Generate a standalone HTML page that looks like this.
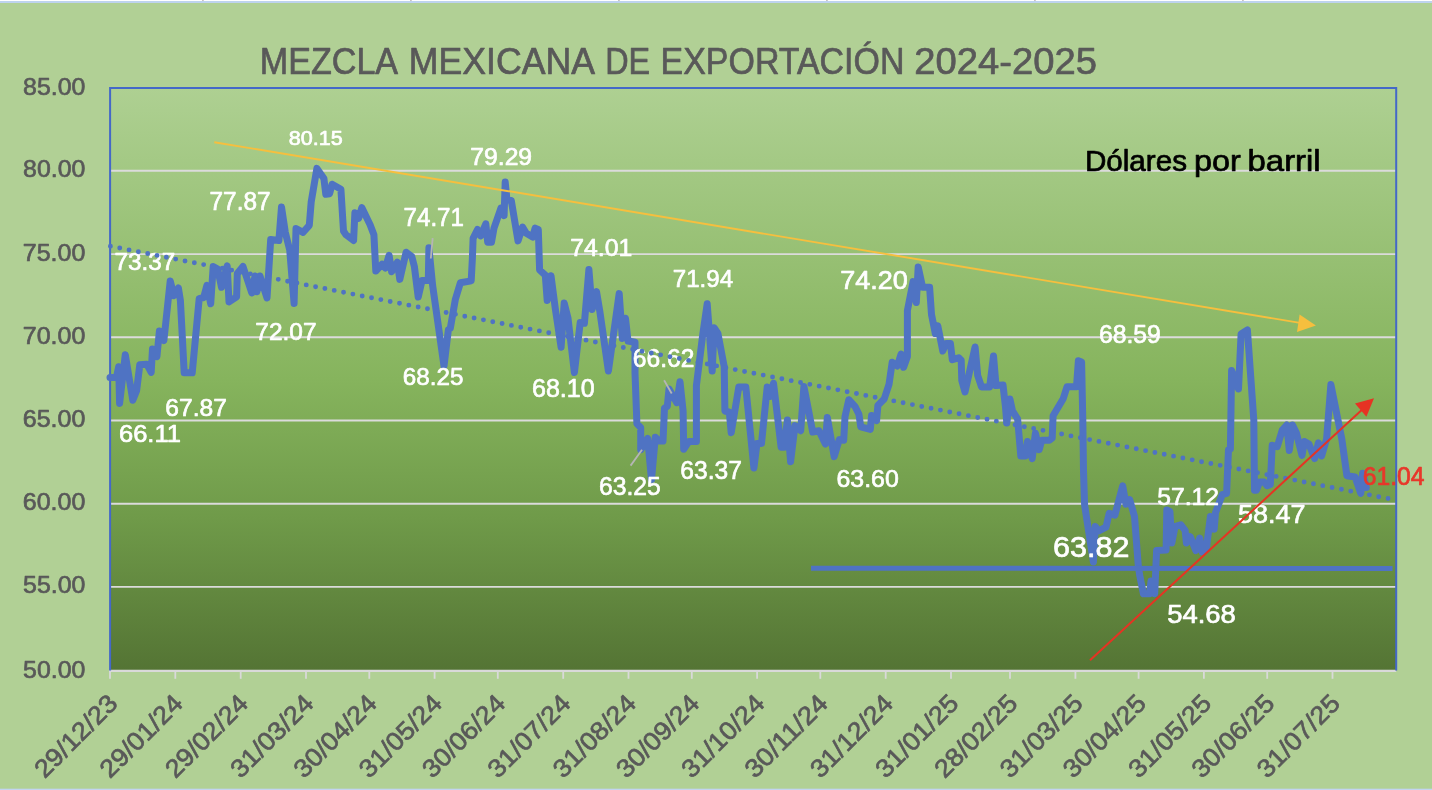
<!DOCTYPE html>
<html lang="es"><head><meta charset="utf-8"><title>Mezcla Mexicana de Exportación 2024-2025</title>
<style>html,body{margin:0;padding:0;background:#b1d095;overflow:hidden}svg{display:block}text{font-family:"Liberation Sans",sans-serif;stroke-width:0.7px;stroke-linejoin:round}</style>
</head><body>
<svg width="1432" height="790" viewBox="0 0 1432 790">
<defs><linearGradient id="g" x1="0" y1="0" x2="0" y2="1"><stop offset="0" stop-color="#aed092"/><stop offset="0.5" stop-color="#86b45d"/><stop offset="0.74" stop-color="#6f9a49"/><stop offset="1" stop-color="#547434"/></linearGradient></defs>
<rect x="0" y="0" width="1432" height="790" fill="#b1d095"/>
<rect x="0" y="0" width="1432" height="1" fill="#ffffff"/>
<rect x="0" y="1" width="1432" height="2" fill="#bed3ee"/>
<rect x="202.0" y="0" width="1.8" height="1" fill="#c9c3c3"/>
<rect x="410.0" y="0" width="1.8" height="1" fill="#c9c3c3"/>
<rect x="618.0" y="0" width="1.8" height="1" fill="#c9c3c3"/>
<rect x="826.0" y="0" width="1.8" height="1" fill="#c9c3c3"/>
<rect x="1034.0" y="0" width="1.8" height="1" fill="#c9c3c3"/>
<rect x="1242.0" y="0" width="1.8" height="1" fill="#c9c3c3"/>
<rect x="0" y="788.7" width="1432" height="1.3" fill="#c2d4f0"/>
<rect x="110.1" y="88.1" width="1286.1000000000001" height="582.8" fill="url(#g)"/>
<line x1="110.1" y1="170.8" x2="1396.2" y2="170.8" stroke="#dbdbdb" stroke-width="1.9"/>
<line x1="110.1" y1="254.1" x2="1396.2" y2="254.1" stroke="#dbdbdb" stroke-width="1.9"/>
<line x1="110.1" y1="337.3" x2="1396.2" y2="337.3" stroke="#dbdbdb" stroke-width="1.9"/>
<line x1="110.1" y1="420.5" x2="1396.2" y2="420.5" stroke="#dbdbdb" stroke-width="1.9"/>
<line x1="110.1" y1="503.7" x2="1396.2" y2="503.7" stroke="#dbdbdb" stroke-width="1.9"/>
<line x1="110.1" y1="586.9" x2="1396.2" y2="586.9" stroke="#dbdbdb" stroke-width="1.9"/>
<line x1="109.1" y1="670.9" x2="1396.2" y2="670.9" stroke="#d9d9d9" stroke-width="2.3"/>
<line x1="110.0" y1="671" x2="110.0" y2="678.8" stroke="#d9d9d9" stroke-width="1.8"/>
<line x1="175.3" y1="671" x2="175.3" y2="678.8" stroke="#d9d9d9" stroke-width="1.8"/>
<line x1="240.7" y1="671" x2="240.7" y2="678.8" stroke="#d9d9d9" stroke-width="1.8"/>
<line x1="306.0" y1="671" x2="306.0" y2="678.8" stroke="#d9d9d9" stroke-width="1.8"/>
<line x1="369.3" y1="671" x2="369.3" y2="678.8" stroke="#d9d9d9" stroke-width="1.8"/>
<line x1="434.6" y1="671" x2="434.6" y2="678.8" stroke="#d9d9d9" stroke-width="1.8"/>
<line x1="497.8" y1="671" x2="497.8" y2="678.8" stroke="#d9d9d9" stroke-width="1.8"/>
<line x1="563.2" y1="671" x2="563.2" y2="678.8" stroke="#d9d9d9" stroke-width="1.8"/>
<line x1="628.5" y1="671" x2="628.5" y2="678.8" stroke="#d9d9d9" stroke-width="1.8"/>
<line x1="691.8" y1="671" x2="691.8" y2="678.8" stroke="#d9d9d9" stroke-width="1.8"/>
<line x1="757.1" y1="671" x2="757.1" y2="678.8" stroke="#d9d9d9" stroke-width="1.8"/>
<line x1="820.3" y1="671" x2="820.3" y2="678.8" stroke="#d9d9d9" stroke-width="1.8"/>
<line x1="885.7" y1="671" x2="885.7" y2="678.8" stroke="#d9d9d9" stroke-width="1.8"/>
<line x1="951.0" y1="671" x2="951.0" y2="678.8" stroke="#d9d9d9" stroke-width="1.8"/>
<line x1="1010.0" y1="671" x2="1010.0" y2="678.8" stroke="#d9d9d9" stroke-width="1.8"/>
<line x1="1075.4" y1="671" x2="1075.4" y2="678.8" stroke="#d9d9d9" stroke-width="1.8"/>
<line x1="1138.6" y1="671" x2="1138.6" y2="678.8" stroke="#d9d9d9" stroke-width="1.8"/>
<line x1="1203.9" y1="671" x2="1203.9" y2="678.8" stroke="#d9d9d9" stroke-width="1.8"/>
<line x1="1267.2" y1="671" x2="1267.2" y2="678.8" stroke="#d9d9d9" stroke-width="1.8"/>
<line x1="1332.5" y1="671" x2="1332.5" y2="678.8" stroke="#d9d9d9" stroke-width="1.8"/>
<path d="M110.1 670.4 V88.1 H1396.2 V670.4" fill="none" stroke="#4468c8" stroke-width="2"/>
<polyline points="110.0,377.5 116.4,377.5 118.7,366.7 119.6,403.4 125.3,354.7 132.8,400.3 136.6,390.8 139.8,364.8 146.8,364.2 151.2,372.4 152.5,349.0 156.9,356.6 159.4,331.0 163.9,340.5 170.2,281.0 174.0,295.6 178.4,288.0 180.4,300.6 184.2,372.8 192.2,372.8 199.2,298.7 203.7,297.5 206.9,285.4 210.7,303.8 213.2,266.5 217.7,269.0 221.5,287.3 227.2,265.8 229.0,301.9 236.6,296.8 237.3,273.4 243.0,266.5 251.8,293.0 255.0,276.0 256.9,291.8 260.0,276.0 267.0,298.0 270.7,239.5 278.9,240.5 281.5,207.0 285.3,232.3 289.7,250.0 294.1,303.4 296.0,228.5 303.0,232.3 309.3,225.3 311.2,201.9 316.9,168.4 323.9,178.5 325.8,194.3 329.6,193.7 332.1,184.2 340.9,189.2 343.5,231.0 346.0,234.8 353.6,240.5 354.9,212.7 358.7,218.4 361.8,207.6 370.1,224.7 373.9,234.8 375.8,271.1 382.1,264.2 385.3,268.0 389.1,255.3 391.6,271.8 397.3,262.3 399.8,279.4 406.1,252.2 411.8,256.6 414.4,266.7 418.2,297.1 422.0,280.6 428.3,280.6 428.9,247.7 432.6,285.3 444.0,366.0 448.4,329.6 450.3,328.4 455.4,299.2 460.4,282.8 471.2,280.9 472.4,258.0 473.1,238.4 477.5,229.5 480.7,235.8 485.8,223.8 487.7,242.2 491.5,242.2 494.0,228.2 501.0,208.0 504.1,215.6 505.2,182.0 506.9,199.0 511.3,200.6 518.0,240.9 522.5,227.0 526.3,233.3 532.6,237.1 535.1,228.2 538.3,229.5 539.6,270.0 545.3,275.2 547.2,300.5 551.0,275.8 555.4,309.4 561.1,347.3 564.2,303.0 568.0,318.2 574.4,372.5 580.2,322.6 584.4,323.3 588.9,269.5 592.1,309.4 596.5,291.6 599.7,310.6 608.4,371.0 619.2,293.6 622.3,338.5 625.5,318.3 628.0,341.0 635.0,342.3 635.0,373.0 636.9,423.6 640.7,427.7 640.7,449.8 647.7,438.4 651.5,479.6 655.3,437.2 659.0,441.0 663.0,441.0 664.5,408.0 667.3,406.5 669.0,389.0 676.8,402.7 680.0,381.8 683.1,411.0 683.7,449.2 688.8,441.6 696.4,441.6 696.4,385.6 702.7,335.0 707.2,303.7 712.2,371.0 714.1,327.8 717.9,333.5 724.2,366.6 724.9,411.0 729.3,412.2 731.2,432.7 738.8,387.0 745.8,387.0 753.9,468.0 757.0,443.4 761.5,443.4 767.2,387.0 770.3,396.5 773.5,383.2 781.1,447.2 784.2,447.2 787.4,420.0 790.6,461.7 795.0,425.6 800.7,430.7 803.9,386.4 812.7,432.0 819.0,430.7 825.4,444.0 827.3,417.4 834.2,456.6 839.3,439.6 843.7,440.2 845.0,416.8 848.8,399.7 855.1,406.6 858.9,414.2 860.8,426.9 870.3,429.4 871.6,415.5 876.6,420.6 877.9,405.4 884.2,399.0 889.0,384.4 892.2,362.2 897.3,366.0 901.1,354.0 903.6,367.3 907.4,356.5 907.4,310.7 913.1,281.6 916.3,302.5 918.2,267.0 922.6,287.3 929.6,287.3 931.5,314.5 935.3,333.5 937.8,325.9 942.8,351.0 946.0,343.4 950.4,343.4 952.3,359.7 958.7,357.8 961.2,360.3 961.8,380.6 965.0,392.0 975.1,347.0 977.7,375.5 981.5,386.9 989.7,386.9 993.5,355.9 996.0,385.6 1003.0,385.0 1005.5,407.2 1006.8,423.0 1009.9,398.9 1012.5,411.0 1017.6,418.8 1020.8,456.0 1025.3,456.0 1027.5,441.5 1032.2,458.6 1035.4,433.3 1039.2,449.7 1041.7,440.3 1049.3,440.3 1052.2,438.0 1053.1,415.8 1063.2,398.7 1067.0,386.7 1076.5,386.7 1078.4,360.8 1081.6,362.0 1082.8,420.0 1083.5,470.6 1084.6,505.0 1087.7,525.3 1093.4,562.0 1095.3,526.6 1098.4,531.0 1106.0,527.2 1109.2,513.3 1114.9,515.2 1122.7,485.8 1125.9,504.2 1129.7,499.7 1134.5,516.5 1138.3,565.8 1139.6,574.7 1143.4,593.7 1149.7,593.7 1151.0,581.0 1154.7,593.7 1156.6,550.6 1166.1,550.0 1166.8,510.1 1169.9,511.4 1171.8,543.0 1175.0,526.6 1180.7,524.7 1185.1,530.4 1186.4,543.0 1190.2,536.7 1195.9,550.6 1199.7,538.0 1202.2,551.9 1206.6,546.8 1210.4,516.5 1214.2,529.1 1215.5,512.7 1222.2,494.7 1226.6,493.4 1228.5,449.7 1230.4,449.1 1231.6,370.6 1238.5,389.0 1241.1,334.0 1247.4,330.0 1253.8,420.0 1254.5,490.3 1256.4,490.3 1259.6,482.0 1264.0,482.0 1267.2,485.8 1270.3,484.6 1272.2,445.3 1277.3,446.6 1282.3,430.1 1286.8,425.0 1289.3,450.4 1292.5,425.0 1296.3,432.7 1302.0,455.4 1304.5,441.5 1308.9,444.0 1314.6,458.6 1318.4,442.8 1321.6,456.0 1326.6,439.0 1330.9,384.6 1341.8,439.0 1346.9,475.7 1355.1,477.0 1360.8,493.4 1362.7,473.2 1366.3,487.5" fill="none" stroke="#4f73c3" stroke-width="7" stroke-linejoin="round" stroke-linecap="round"/>
<line x1="811" y1="568.3" x2="1392.5" y2="568.4" stroke="#4f73c3" stroke-width="5"/>
<line x1="432.7" y1="238.2" x2="430.8" y2="258.5" stroke="#b5b5b5" stroke-width="1.8"/>
<line x1="664.1" y1="380.3" x2="671.7" y2="393.5" stroke="#b5b5b5" stroke-width="1.8"/>
<line x1="630.6" y1="465.6" x2="642" y2="449.8" stroke="#b5b5b5" stroke-width="1.8"/>
<text x="288.69" y="145.39" font-size="20.92" fill="#fff" stroke="#fff" textLength="53.98" lengthAdjust="spacingAndGlyphs">80.15</text>
<text x="470.32" y="164.55" font-size="24.72" fill="#fff" stroke="#fff" textLength="61.78" lengthAdjust="spacingAndGlyphs">79.29</text>
<text x="209.53" y="209.55" font-size="25.00" fill="#fff" stroke="#fff" textLength="61.00" lengthAdjust="spacingAndGlyphs">77.87</text>
<text x="403.54" y="225.80" font-size="25.43" fill="#fff" stroke="#fff" textLength="60.48" lengthAdjust="spacingAndGlyphs">74.71</text>
<text x="114.54" y="269.55" font-size="24.72" fill="#fff" stroke="#fff" textLength="60.79" lengthAdjust="spacingAndGlyphs">73.37</text>
<text x="255.33" y="339.55" font-size="24.72" fill="#fff" stroke="#fff" textLength="61.21" lengthAdjust="spacingAndGlyphs">72.07</text>
<text x="570.31" y="255.85" font-size="24.72" fill="#fff" stroke="#fff" textLength="62.04" lengthAdjust="spacingAndGlyphs">74.01</text>
<text x="672.85" y="286.75" font-size="24.58" fill="#fff" stroke="#fff" textLength="60.18" lengthAdjust="spacingAndGlyphs">71.94</text>
<text x="840.20" y="288.83" font-size="26.55" fill="#fff" stroke="#fff" textLength="67.70" lengthAdjust="spacingAndGlyphs">74.20</text>
<text x="402.84" y="384.55" font-size="24.72" fill="#fff" stroke="#fff" textLength="60.54" lengthAdjust="spacingAndGlyphs">68.25</text>
<text x="532.00" y="396.55" font-size="25.00" fill="#fff" stroke="#fff" textLength="62.61" lengthAdjust="spacingAndGlyphs">68.10</text>
<text x="165.32" y="415.85" font-size="24.72" fill="#fff" stroke="#fff" textLength="61.52" lengthAdjust="spacingAndGlyphs">67.87</text>
<text x="118.97" y="442.36" font-size="24.44" fill="#fff" stroke="#fff" textLength="62.01" lengthAdjust="spacingAndGlyphs">66.11</text>
<text x="632.82" y="366.55" font-size="25.00" fill="#fff" stroke="#fff" textLength="61.52" lengthAdjust="spacingAndGlyphs">66.62</text>
<text x="599.02" y="495.35" font-size="25.14" fill="#fff" stroke="#fff" textLength="61.78" lengthAdjust="spacingAndGlyphs">63.25</text>
<text x="680.32" y="478.55" font-size="25.42" fill="#fff" stroke="#fff" textLength="61.52" lengthAdjust="spacingAndGlyphs">63.37</text>
<text x="836.51" y="487.05" font-size="24.72" fill="#fff" stroke="#fff" textLength="62.30" lengthAdjust="spacingAndGlyphs">63.60</text>
<text x="1099.02" y="342.85" font-size="25.14" fill="#fff" stroke="#fff" textLength="61.78" lengthAdjust="spacingAndGlyphs">68.59</text>
<text x="1157.26" y="504.55" font-size="24.72" fill="#fff" stroke="#fff" textLength="61.78" lengthAdjust="spacingAndGlyphs">57.12</text>
<text x="1237.97" y="523.33" font-size="26.55" fill="#fff" stroke="#fff" textLength="67.49" lengthAdjust="spacingAndGlyphs">58.47</text>
<text x="1167.15" y="622.54" font-size="26.41" fill="#fff" stroke="#fff" textLength="68.77" lengthAdjust="spacingAndGlyphs">54.68</text>
<text x="1053.02" y="557.00" font-size="30.35" fill="#fff" stroke="#fff" textLength="76.33" lengthAdjust="spacingAndGlyphs">63.82</text>
<line x1="110.4" y1="246.2" x2="1392" y2="499.3" stroke="#4f73c3" stroke-width="4.9" stroke-linecap="round" stroke-dasharray="0 9.506"/>
<line x1="214.3" y1="142.2" x2="1300" y2="322.9" stroke="#f6bf3e" stroke-width="1.9"/>
<polygon points="1315.9,325.4 1299.6,314.6 1297,331.9" fill="#f6bf3e"/>
<line x1="1090" y1="660.2" x2="1362" y2="409.7" stroke="#e63323" stroke-width="2"/>
<polygon points="1374,398.2 1355,403.5 1366.4,416.8" fill="#e63323"/>
<text x="1362.71" y="484.55" font-size="25.14" fill="#e8372a" stroke="#e8372a" textLength="61.84" lengthAdjust="spacingAndGlyphs">61.04</text>
<text stroke-width="0.3" y="170.60" font-size="30.00" fill="#000" stroke="#000"><tspan x="1084.89" textLength="102.13" lengthAdjust="spacingAndGlyphs">Dólares</tspan> <tspan x="1194.04" textLength="46.85" lengthAdjust="spacingAndGlyphs">por</tspan> <tspan x="1247.58" textLength="73.10" lengthAdjust="spacingAndGlyphs">barril</tspan></text>
<text stroke-width="1" y="73.50" font-size="37.14" fill="#595959" stroke="#595959"><tspan x="259.81" textLength="136.45" lengthAdjust="spacingAndGlyphs">MEZCLA</tspan> <tspan x="408.77" textLength="184.22" lengthAdjust="spacingAndGlyphs">MEXICANA</tspan> <tspan x="605.20" textLength="44.97" lengthAdjust="spacingAndGlyphs">DE</tspan> <tspan x="660.62" textLength="243.81" lengthAdjust="spacingAndGlyphs">EXPORTACIÓN</tspan> <tspan x="914.32" textLength="182.64" lengthAdjust="spacingAndGlyphs">2024-2025</tspan></text>
<text x="23.05" y="94.55" font-size="24.72" fill="#595959" stroke="#595959" textLength="62.25" lengthAdjust="spacingAndGlyphs">85.00</text>
<text x="23.05" y="177.38" font-size="24.72" fill="#595959" stroke="#595959" textLength="62.25" lengthAdjust="spacingAndGlyphs">80.00</text>
<text x="22.80" y="260.60" font-size="24.72" fill="#595959" stroke="#595959" textLength="62.51" lengthAdjust="spacingAndGlyphs">75.00</text>
<text x="22.80" y="343.82" font-size="24.72" fill="#595959" stroke="#595959" textLength="62.51" lengthAdjust="spacingAndGlyphs">70.00</text>
<text x="22.80" y="427.04" font-size="24.72" fill="#595959" stroke="#595959" textLength="62.51" lengthAdjust="spacingAndGlyphs">65.00</text>
<text x="22.80" y="510.26" font-size="24.72" fill="#595959" stroke="#595959" textLength="62.51" lengthAdjust="spacingAndGlyphs">60.00</text>
<text x="23.05" y="593.48" font-size="24.72" fill="#595959" stroke="#595959" textLength="62.25" lengthAdjust="spacingAndGlyphs">55.00</text>
<text x="23.05" y="677.55" font-size="24.72" fill="#595959" stroke="#595959" textLength="62.25" lengthAdjust="spacingAndGlyphs">50.00</text>
<text x="119.0" y="705.0" font-size="25.4" fill="#595959" stroke="#595959" stroke-width="0.6" text-anchor="end" textLength="105" lengthAdjust="spacingAndGlyphs" transform="rotate(-45 119.0 705.0)">29/12/23</text>
<text x="184.3" y="705.0" font-size="25.4" fill="#595959" stroke="#595959" stroke-width="0.6" text-anchor="end" textLength="105" lengthAdjust="spacingAndGlyphs" transform="rotate(-45 184.3 705.0)">29/01/24</text>
<text x="249.7" y="705.0" font-size="25.4" fill="#595959" stroke="#595959" stroke-width="0.6" text-anchor="end" textLength="105" lengthAdjust="spacingAndGlyphs" transform="rotate(-45 249.7 705.0)">29/02/24</text>
<text x="315.0" y="705.0" font-size="25.4" fill="#595959" stroke="#595959" stroke-width="0.6" text-anchor="end" textLength="105" lengthAdjust="spacingAndGlyphs" transform="rotate(-45 315.0 705.0)">31/03/24</text>
<text x="378.3" y="705.0" font-size="25.4" fill="#595959" stroke="#595959" stroke-width="0.6" text-anchor="end" textLength="105" lengthAdjust="spacingAndGlyphs" transform="rotate(-45 378.3 705.0)">30/04/24</text>
<text x="443.6" y="705.0" font-size="25.4" fill="#595959" stroke="#595959" stroke-width="0.6" text-anchor="end" textLength="105" lengthAdjust="spacingAndGlyphs" transform="rotate(-45 443.6 705.0)">31/05/24</text>
<text x="506.8" y="705.0" font-size="25.4" fill="#595959" stroke="#595959" stroke-width="0.6" text-anchor="end" textLength="105" lengthAdjust="spacingAndGlyphs" transform="rotate(-45 506.8 705.0)">30/06/24</text>
<text x="572.2" y="705.0" font-size="25.4" fill="#595959" stroke="#595959" stroke-width="0.6" text-anchor="end" textLength="105" lengthAdjust="spacingAndGlyphs" transform="rotate(-45 572.2 705.0)">31/07/24</text>
<text x="637.5" y="705.0" font-size="25.4" fill="#595959" stroke="#595959" stroke-width="0.6" text-anchor="end" textLength="105" lengthAdjust="spacingAndGlyphs" transform="rotate(-45 637.5 705.0)">31/08/24</text>
<text x="700.8" y="705.0" font-size="25.4" fill="#595959" stroke="#595959" stroke-width="0.6" text-anchor="end" textLength="105" lengthAdjust="spacingAndGlyphs" transform="rotate(-45 700.8 705.0)">30/09/24</text>
<text x="766.1" y="705.0" font-size="25.4" fill="#595959" stroke="#595959" stroke-width="0.6" text-anchor="end" textLength="105" lengthAdjust="spacingAndGlyphs" transform="rotate(-45 766.1 705.0)">31/10/24</text>
<text x="829.3" y="705.0" font-size="25.4" fill="#595959" stroke="#595959" stroke-width="0.6" text-anchor="end" textLength="105" lengthAdjust="spacingAndGlyphs" transform="rotate(-45 829.3 705.0)">30/11/24</text>
<text x="894.7" y="705.0" font-size="25.4" fill="#595959" stroke="#595959" stroke-width="0.6" text-anchor="end" textLength="105" lengthAdjust="spacingAndGlyphs" transform="rotate(-45 894.7 705.0)">31/12/24</text>
<text x="960.0" y="705.0" font-size="25.4" fill="#595959" stroke="#595959" stroke-width="0.6" text-anchor="end" textLength="105" lengthAdjust="spacingAndGlyphs" transform="rotate(-45 960.0 705.0)">31/01/25</text>
<text x="1019.0" y="705.0" font-size="25.4" fill="#595959" stroke="#595959" stroke-width="0.6" text-anchor="end" textLength="105" lengthAdjust="spacingAndGlyphs" transform="rotate(-45 1019.0 705.0)">28/02/25</text>
<text x="1084.4" y="705.0" font-size="25.4" fill="#595959" stroke="#595959" stroke-width="0.6" text-anchor="end" textLength="105" lengthAdjust="spacingAndGlyphs" transform="rotate(-45 1084.4 705.0)">31/03/25</text>
<text x="1147.6" y="705.0" font-size="25.4" fill="#595959" stroke="#595959" stroke-width="0.6" text-anchor="end" textLength="105" lengthAdjust="spacingAndGlyphs" transform="rotate(-45 1147.6 705.0)">30/04/25</text>
<text x="1212.9" y="705.0" font-size="25.4" fill="#595959" stroke="#595959" stroke-width="0.6" text-anchor="end" textLength="105" lengthAdjust="spacingAndGlyphs" transform="rotate(-45 1212.9 705.0)">31/05/25</text>
<text x="1276.2" y="705.0" font-size="25.4" fill="#595959" stroke="#595959" stroke-width="0.6" text-anchor="end" textLength="105" lengthAdjust="spacingAndGlyphs" transform="rotate(-45 1276.2 705.0)">30/06/25</text>
<text x="1341.5" y="705.0" font-size="25.4" fill="#595959" stroke="#595959" stroke-width="0.6" text-anchor="end" textLength="105" lengthAdjust="spacingAndGlyphs" transform="rotate(-45 1341.5 705.0)">31/07/25</text>
</svg></body></html>
